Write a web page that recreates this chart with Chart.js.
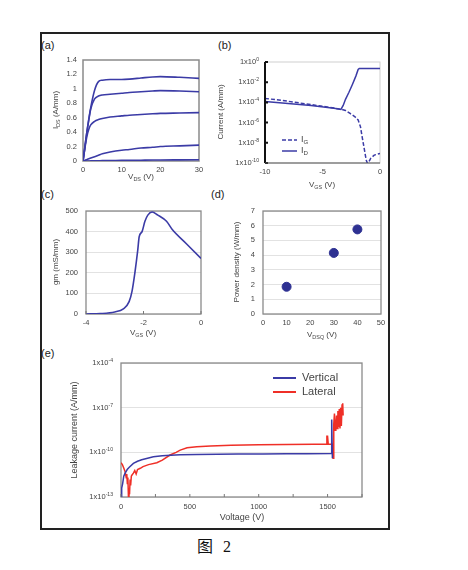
<!DOCTYPE html>
<html>
<head>
<meta charset="utf-8">
<script src="https://cdn.jsdelivr.net/npm/chart.js@4.4.1/dist/chart.umd.min.js"></script>
<style>
body { margin: 0; background: #fff; width: 468px; height: 570px; position: relative; overflow: hidden; font-family: "Liberation Sans", Arial, sans-serif; }
canvas { position: absolute; left: 0; top: 0; }
#frame { position: absolute; left: 40px; top: 32px; width: 350px; height: 498px; box-sizing: border-box; border: 2.5px solid #222; }
.lbl { position: absolute; font-size: 11px; line-height: 11px; color: #222; }
.cap { position: absolute; top: 538px; font-size: 16px; line-height: 18px; color: #111; font-family: "Liberation Serif", "Noto Sans CJK SC", serif; }
</style>
</head>
<body>
<div id="frame"></div>
<div class="lbl" style="left:41px;top:40px">(a)</div>
<div class="lbl" style="left:218px;top:40px">(b)</div>
<div class="lbl" style="left:41px;top:189px">(c)</div>
<div class="lbl" style="left:211px;top:189px">(d)</div>
<div class="lbl" style="left:41px;top:348px">(e)</div>
<div class="cap" style="left:197px">图</div>
<div class="cap" style="left:223px">2</div>
<canvas id="ca" width="468" height="570"></canvas>
<canvas id="cb" width="468" height="570"></canvas>
<canvas id="cc" width="468" height="570"></canvas>
<canvas id="cd" width="468" height="570"></canvas>
<canvas id="ce" width="468" height="570"></canvas>
<script>
// ---- data ----
// (a) output curves, IDS (A/mm) vs VDS (V)
const aVds = [0, 0.5, 1, 1.5, 2, 3, 4, 5, 7, 10, 12, 15, 18, 20, 25, 30];
const aId1 = [0, 0.2, 0.4, 0.58, 0.74, 0.98, 1.1, 1.12, 1.13, 1.13, 1.135, 1.15, 1.165, 1.17, 1.16, 1.145];
const aId2 = [0, 0.2, 0.4, 0.57, 0.72, 0.86, 0.9, 0.915, 0.925, 0.94, 0.95, 0.96, 0.97, 0.975, 0.97, 0.96];
const aId3 = [0, 0.18, 0.34, 0.44, 0.5, 0.55, 0.575, 0.59, 0.61, 0.625, 0.635, 0.645, 0.655, 0.66, 0.665, 0.67];
const aId4 = [0, 0.01, 0.02, 0.03, 0.04, 0.06, 0.08, 0.1, 0.125, 0.15, 0.16, 0.18, 0.19, 0.2, 0.21, 0.22];
const aId5 = [0, 0, 0, 0, 0.002, 0.003, 0.004, 0.005, 0.006, 0.008, 0.009, 0.011, 0.013, 0.014, 0.016, 0.018];

// (b) transfer, current (A/mm) vs VGS (V)
const bVgsD = [-10, -8, -6, -4, -3.4, -3.2, -3, -2.7, -2.4, -2.1, -1.9, -1.8, 0];
const bId = [1.2e-4, 8e-5, 5e-5, 2.6e-5, 2e-5, 5e-5, 2e-4, 1e-3, 6e-3, 4e-2, 0.18, 0.23, 0.23];
const bVgsG = [-10, -8, -6, -4, -3.4, -3, -2.6, -2.2, -1.9, -1.7, -1.6, -1.4, -1.2, -1.1, -1.0, -0.8, -0.5, 0];
const bIg = [2.5e-4, 1.3e-4, 6e-5, 2.8e-5, 2.1e-5, 1.6e-5, 8e-6, 4e-6, 1.8e-6, 4e-7, 8e-8, 4e-9, 2e-10, 1e-10, 1.1e-10, 3e-10, 6e-10, 9e-10];
const bTicks = [1, 1e-2, 1e-4, 1e-6, 1e-8, 1e-10];

// (c) transconductance gm (mS/mm) vs VGS (V)
const cVgs = [-4, -3.5, -3, -2.7, -2.5, -2.4, -2.3, -2.2, -2.15, -2.05, -1.95, -1.85, -1.7, -1.5, -1.2, -1.0, -0.5, 0];
const cGm = [0, 2, 10, 25, 60, 110, 200, 310, 375, 400, 450, 480, 495, 480, 450, 410, 340, 270];

// (d) power density (W/mm) vs VDSQ (V)
const dVdsq = [10, 30, 40];
const dPout = [1.85, 4.15, 5.75];

// (e) leakage current (A/mm) vs voltage (V)
const eVerV = [0, 5, 12, 20, 30, 45, 60, 90, 120, 150, 200, 235, 300, 330, 430, 550, 700, 850, 1030, 1200, 1350, 1525, 1528, 1532, 1535];
const eVerI = [1e-13, 4e-13, 8e-13, 2.5e-12, 4e-12, 7e-12, 1e-11, 1.8e-11, 2.5e-11, 3.2e-11, 4.2e-11, 5e-11, 5.8e-11, 6.2e-11, 6.8e-11, 7.2e-11, 7.5e-11, 7.7e-11, 7.8e-11, 8e-11, 8.1e-11, 8.2e-11, 1.6e-8, 1.6e-8, 4e-11];
const eLatV = [0, 10, 20, 30, 38, 42, 46, 50, 54, 58, 62, 66, 70, 75, 80, 90, 100, 110, 120, 140, 160, 200, 260, 300, 356, 400, 430, 480, 550, 650, 800, 1000, 1200, 1400, 1490, 1495, 1500, 1505, 1535, 1540, 1545, 1550, 1555, 1560, 1565, 1570, 1575, 1580, 1585, 1590, 1595, 1600, 1605, 1610, 1613];
const eLatI = [2e-11, 1.5e-11, 9e-12, 5e-12, 2e-12, 3.5e-12, 8e-13, 2e-12, 1e-13, 4e-13, 1.5e-13, 1.5e-12, 6e-13, 2.5e-12, 3e-12, 4e-12, 6e-12, 3.5e-12, 7e-12, 8.5e-12, 1.1e-11, 1.5e-11, 2e-11, 3e-11, 6.6e-11, 1e-10, 1.4e-10, 2e-10, 2.4e-10, 2.7e-10, 3e-10, 3.2e-10, 3.4e-10, 3.5e-10, 3.5e-10, 1.2e-9, 1.2e-9, 3.5e-10, 3.6e-10, 4e-11, 8e-9, 4e-8, 3e-9, 5e-9, 3e-8, 4e-9, 6e-8, 5e-9, 8e-8, 4e-9, 1e-7, 6e-9, 1.5e-7, 2e-7, 3e-8];
const eTicks = [1e-13, 1e-10, 1e-7, 1e-4];

// ---- helpers ----
const W = 468, H = 570;
const FONT = '"Liberation Sans", Arial, sans-serif';
const BLUE = '#3b3ba6', RED = '#ef2f27';
const TICK = 7.5;

Chart.defaults.font.family = FONT;
Chart.defaults.font.size = TICK;
Chart.defaults.color = '#444';
Chart.defaults.animation = false;

const zip = (xs, ys) => xs.map((x, i) => ({ x, y: ys[i] }));

// text with sub/superscripts
function rich(ctx, parts, x, y, size, align, rot) {
  ctx.save();
  ctx.translate(x, y);
  if (rot) ctx.rotate(-Math.PI / 2);
  let w = 0;
  parts.forEach(p => { ctx.font = (p[1] ? size * 0.68 : size) + 'px ' + FONT; w += ctx.measureText(p[0]).width; });
  let cx = align === 'right' ? -w : align === 'left' ? 0 : -w / 2;
  ctx.textBaseline = 'middle';
  ctx.textAlign = 'left';
  ctx.fillStyle = '#444';
  parts.forEach(p => {
    const s = p[1] ? size * 0.68 : size;
    ctx.font = s + 'px ' + FONT;
    const dy = p[1] === 'sub' ? size * 0.28 : p[1] === 'sup' ? -size * 0.32 : 0;
    ctx.fillText(p[0], cx, dy);
    cx += ctx.measureText(p[0]).width;
  });
  ctx.restore();
}

function deco(o) {
  return {
    id: 'deco',
    beforeDatasetsDraw(chart) {
      const ctx = chart.ctx, a = chart.chartArea;
      if (!o.box) return;
      ctx.save();
      ctx.strokeStyle = o.box;
      ctx.lineWidth = o.boxWidth || 1.2;
      ctx.strokeRect(a.left, a.top, a.right - a.left, a.bottom - a.top);
      ctx.restore();
    },
    afterDraw(chart) {
      const ctx = chart.ctx, a = chart.chartArea;
      ctx.save();
      if (o.leftAxis) {
        const sy = chart.scales.y;
        ctx.strokeStyle = '#111';
        ctx.lineWidth = 2;
        ctx.beginPath();
        ctx.moveTo(a.left, a.top); ctx.lineTo(a.left, a.bottom);
        o.logY.forEach(v => { const py = sy.getPixelForValue(v); ctx.moveTo(a.left, py); ctx.lineTo(a.left + 3, py); });
        ctx.stroke();
        ctx.strokeStyle = '#555';
        ctx.lineWidth = 1.2;
        ctx.beginPath();
        ctx.moveTo(a.left, a.bottom); ctx.lineTo(a.right, a.bottom);
        ctx.stroke();
      }
      if (o.inTicksX) {
        const sx = chart.scales.x;
        ctx.strokeStyle = '#777';
        ctx.lineWidth = 1;
        ctx.beginPath();
        sx.ticks.forEach(t => { const px = sx.getPixelForValue(t.value); ctx.moveTo(px, a.bottom); ctx.lineTo(px, a.bottom - 3); });
        ctx.stroke();
      }
      if (o.logY) {
        const sy = chart.scales.y;
        o.logY.forEach(v => {
          const e = Math.round(Math.log10(v));
          rich(ctx, [['1x10'], [String(e), 'sup']], a.left - o.logPad, sy.getPixelForValue(v), TICK, 'right');
        });
      }
      (o.titles || []).forEach(t => rich(ctx, t.parts, t.x, t.y, t.size, 'center', t.rot));
      (o.legend || []).forEach(l => {
        ctx.strokeStyle = l.color;
        ctx.lineWidth = l.width || 1.5;
        ctx.setLineDash(l.dash || []);
        ctx.beginPath();
        ctx.moveTo(l.x1, l.y); ctx.lineTo(l.x2, l.y);
        ctx.stroke();
        ctx.setLineDash([]);
        rich(ctx, l.parts, l.tx, l.y, l.size, 'left');
      });
      ctx.restore();
    }
  };
}

function base(plot) {
  return {
    responsive: false,
    devicePixelRatio: 1,
    layout: { padding: { left: 0, top: plot[1], right: W - plot[2], bottom: 0 } },
    plugins: { legend: { display: false }, tooltip: { enabled: false } },
    elements: { point: { radius: 0 } }
  };
}
const yFit = plot => s => { s.width = plot[0]; };
const xFit = plot => s => { s.height = H - plot[3]; };
const noGrid = { display: false, drawTicks: false };
const hGrid = { color: '#e2e2e2', drawTicks: false };

// ---- (a) ----
const plotA = [83, 60, 199, 161];
new Chart(document.getElementById('ca'), {
  type: 'line',
  data: {
    datasets: [aId1, aId2, aId3, aId4, aId5].map(c => ({
      data: zip(aVds, c), borderColor: BLUE, borderWidth: 1.6, cubicInterpolationMode: 'monotone'
    }))
  },
  options: Object.assign(base(plotA), {
    scales: {
      x: { type: 'linear', min: 0, max: 30, afterFit: xFit(plotA),
        ticks: { stepSize: 10, padding: 4 }, grid: noGrid, border: { display: false } },
      y: { min: 0, max: 1.4, afterFit: yFit(plotA),
        ticks: { stepSize: 0.2, padding: 6, callback: v => +v.toFixed(1) }, grid: noGrid, border: { display: false } }
    }
  }),
  plugins: [deco({
    box: '#8a8a8a', boxWidth: 1.5,
    titles: [
      { parts: [['I'], ['DS', 'sub'], [' (A/mm)']], x: 56, y: 110, size: 8, rot: true },
      { parts: [['V'], ['DS', 'sub'], [' (V)']], x: 141, y: 177, size: 8 }
    ]
  })]
});

// ---- (b) ----
const plotB = [265, 62, 380, 163];
new Chart(document.getElementById('cb'), {
  type: 'line',
  data: {
    datasets: [
      { data: zip(bVgsG, bIg), borderColor: BLUE, borderWidth: 1.5, borderDash: [4, 2], tension: 0 },
      { data: zip(bVgsD, bId), borderColor: BLUE, borderWidth: 1.5, tension: 0 }
    ]
  },
  options: Object.assign(base(plotB), {
    scales: {
      x: { type: 'linear', min: -10, max: 0, afterFit: xFit(plotB),
        ticks: { stepSize: 5, padding: 4 }, grid: noGrid, border: { display: false } },
      y: { type: 'logarithmic', min: 1e-10, max: 1, afterFit: yFit(plotB),
        afterBuildTicks: s => { s.ticks = bTicks.map(v => ({ value: v })); },
        ticks: { display: false }, grid: noGrid, border: { display: false } }
    }
  }),
  plugins: [deco({
    box: '#cfcfcf', boxWidth: 1, leftAxis: true, logY: bTicks, logPad: 6,
    titles: [
      { parts: [['Current (A/mm)']], x: 221, y: 112, size: 8, rot: true },
      { parts: [['V'], ['GS', 'sub'], [' (V)']], x: 322, y: 185, size: 8 }
    ],
    legend: [
      { x1: 282, x2: 297, y: 140, color: BLUE, dash: [4, 2], tx: 301, parts: [['I'], ['G', 'sub']], size: 9 },
      { x1: 282, x2: 297, y: 151, color: BLUE, tx: 301, parts: [['I'], ['D', 'sub']], size: 9 }
    ]
  })]
});

// ---- (c) ----
const plotC = [86, 211, 201, 314];
new Chart(document.getElementById('cc'), {
  type: 'line',
  data: {
    datasets: [{ data: zip(cVgs, cGm), borderColor: BLUE, borderWidth: 1.6, cubicInterpolationMode: 'monotone' }]
  },
  options: Object.assign(base(plotC), {
    scales: {
      x: { type: 'linear', min: -4, max: 0, afterFit: xFit(plotC),
        ticks: { stepSize: 2, padding: 4 }, grid: noGrid, border: { display: false } },
      y: { min: 0, max: 500, afterFit: yFit(plotC),
        ticks: { stepSize: 100, padding: 8 }, grid: hGrid, border: { display: false } }
    }
  }),
  plugins: [deco({
    box: '#8a8a8a', boxWidth: 1.3, inTicksX: true,
    titles: [
      { parts: [['gm (mS/mm)']], x: 56, y: 262, size: 8, rot: true },
      { parts: [['V'], ['GS', 'sub'], [' (V)']], x: 143, y: 333, size: 8 }
    ]
  })]
});

// ---- (d) ----
const plotD = [263, 211, 381, 314];
new Chart(document.getElementById('cd'), {
  type: 'scatter',
  data: {
    datasets: [{ data: zip(dVdsq, dPout), backgroundColor: '#2e3192', borderColor: '#2e3192', pointRadius: 4.5 }]
  },
  options: Object.assign(base(plotD), {
    elements: { point: { radius: 4.5 } },
    scales: {
      x: { type: 'linear', min: 0, max: 50, afterFit: xFit(plotD),
        ticks: { stepSize: 10, padding: 4 }, grid: noGrid, border: { display: false } },
      y: { min: 0, max: 7, afterFit: yFit(plotD),
        ticks: { stepSize: 1, padding: 8 }, grid: hGrid, border: { display: false } }
    }
  }),
  plugins: [deco({
    box: '#8a8a8a', boxWidth: 1.3,
    titles: [
      { parts: [['Power density (W/mm)']], x: 237, y: 262, size: 8, rot: true },
      { parts: [['V'], ['DSQ', 'sub'], [' (V)']], x: 322, y: 335, size: 8 }
    ]
  })]
});

// ---- (e) ----
const plotE = [121, 363, 362, 497];
new Chart(document.getElementById('ce'), {
  type: 'line',
  data: {
    datasets: [
      { data: zip(eVerV, eVerI), borderColor: BLUE, borderWidth: 1.5, tension: 0 },
      { data: zip(eLatV, eLatI), borderColor: RED, borderWidth: 1.5, tension: 0 }
    ]
  },
  options: Object.assign(base(plotE), {
    scales: {
      x: { type: 'linear', min: 0, max: 1750, afterFit: xFit(plotE),
        ticks: { stepSize: 250, padding: 5, autoSkip: false, callback: v => (v % 500 === 0 ? v : '') },
        grid: noGrid, border: { display: false } },
      y: { type: 'logarithmic', min: 1e-13, max: 1e-4, afterFit: yFit(plotE),
        afterBuildTicks: s => { s.ticks = eTicks.map(v => ({ value: v })); },
        ticks: { display: false }, grid: hGrid, border: { display: false } }
    }
  }),
  plugins: [deco({
    box: '#8a8a8a', boxWidth: 1.3, inTicksX: true, logY: eTicks, logPad: 8,
    titles: [
      { parts: [['Leakage current (A/mm)']], x: 75, y: 430, size: 9, rot: true },
      { parts: [['Voltage (V)']], x: 242, y: 518, size: 9 }
    ],
    legend: [
      { x1: 273, x2: 296, y: 378, color: BLUE, width: 2, tx: 302, parts: [['Vertical']], size: 11 },
      { x1: 273, x2: 296, y: 392, color: RED, width: 2, tx: 302, parts: [['Lateral']], size: 11 }
    ]
  })]
});
</script>
</body>
</html>
